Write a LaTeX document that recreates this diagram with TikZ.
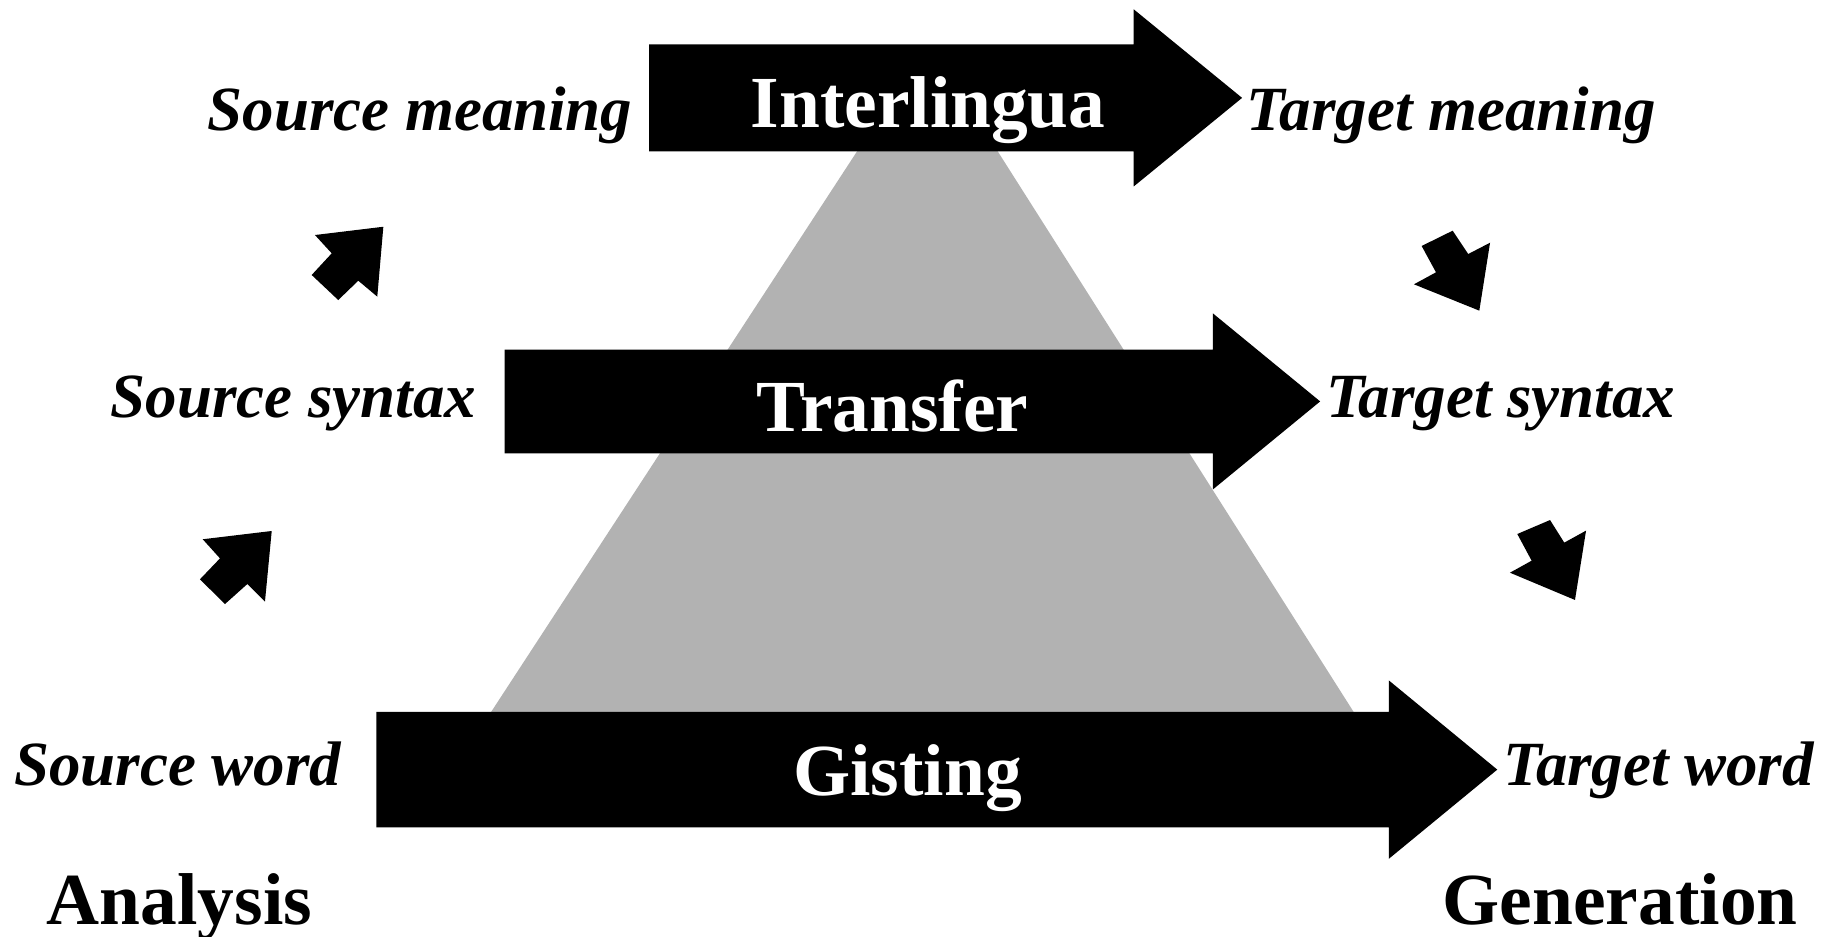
\documentclass[tikz,border=0pt]{standalone}
\usepackage{fontspec}
\setmainfont{Liberation Serif}
\begin{document}
\begin{tikzpicture}[x=1pt,y=-1pt,
  lab/.style={font=\fontsize{54}{60}\selectfont\bfseries\itshape, inner sep=0pt, anchor=base west},
  big/.style={font=\fontsize{63}{70}\selectfont\bfseries, inner sep=0pt, anchor=base, text=white},
  stage/.style={font=\fontsize{63}{70}\selectfont\bfseries, inner sep=0pt, anchor=base west},
  blk/.style={fill=black}]
\definecolor{tri}{RGB}{178,178,178}
\useasboundingbox (0,0) rectangle (1568,804);
% pyramid
\fill[tri] (742,120) -- (850,120) -- (1170,624) -- (413,624) -- cycle;
% big block arrows
\fill[blk] (557,38) -- (973,38) -- (973,8) -- (1066,84) -- (973,160) -- (973,130) -- (557,130) -- cycle;
\fill[blk] (433,300) -- (1041,300) -- (1041,269) -- (1133,344.5) -- (1041,420) -- (1041,389) -- (433,389) -- cycle;
\fill[blk] (323,611) -- (1192,611) -- (1192,584) -- (1285,660.5) -- (1192,737) -- (1192,710) -- (323,710) -- cycle;
\node[big] (il) at (796.5,109) {Interlingua};
\node[big] (tr) at (766,370) {Transfer};
\node[big] (gi) at (779,683) {Gisting};
% small arrows
\fill[blk] (270.3,201.7) -- (329,194.6) -- (323.8,254.6) -- (307.5,240.9) -- (290.3,257.5) -- (267.5,236) -- (284.7,217.4) -- cycle;
\fill[blk] (174,462.8) -- (233.2,455.7) -- (227.4,516.4) -- (212.3,501.2) -- (193.1,518.4) -- (171.6,497.2) -- (188.8,479.2) -- cycle;
\fill[blk] (1220.1,211.1) -- (1246.7,198) -- (1260.1,218) -- (1278.8,208.3) -- (1269.6,266.6) -- (1213.5,244) -- (1232.4,233.7) -- cycle;
\fill[blk] (1302.2,458.3) -- (1330.3,446.3) -- (1342.5,465.7) -- (1361.2,455.4) -- (1351.7,514.9) -- (1295.9,491.5) -- (1314.5,481.2) -- cycle;
% labels
\node[lab] (sm) at (178,112) {Source meaning};
\node[lab] (tm) at (1070,112) {Target meaning};
\node[lab] (ss) at (95,358) {Source syntax};
\node[lab] (ts) at (1138,358) {Target syntax};
\node[lab] (sw) at (12,674) {Source word};
\node[lab] (tw) at (1290,674) {Target word};
\node[stage] (an) at (40,793) {Analysis};
\node[stage] (ge) at (1238,793) {Generation};
\end{tikzpicture}
\end{document}
